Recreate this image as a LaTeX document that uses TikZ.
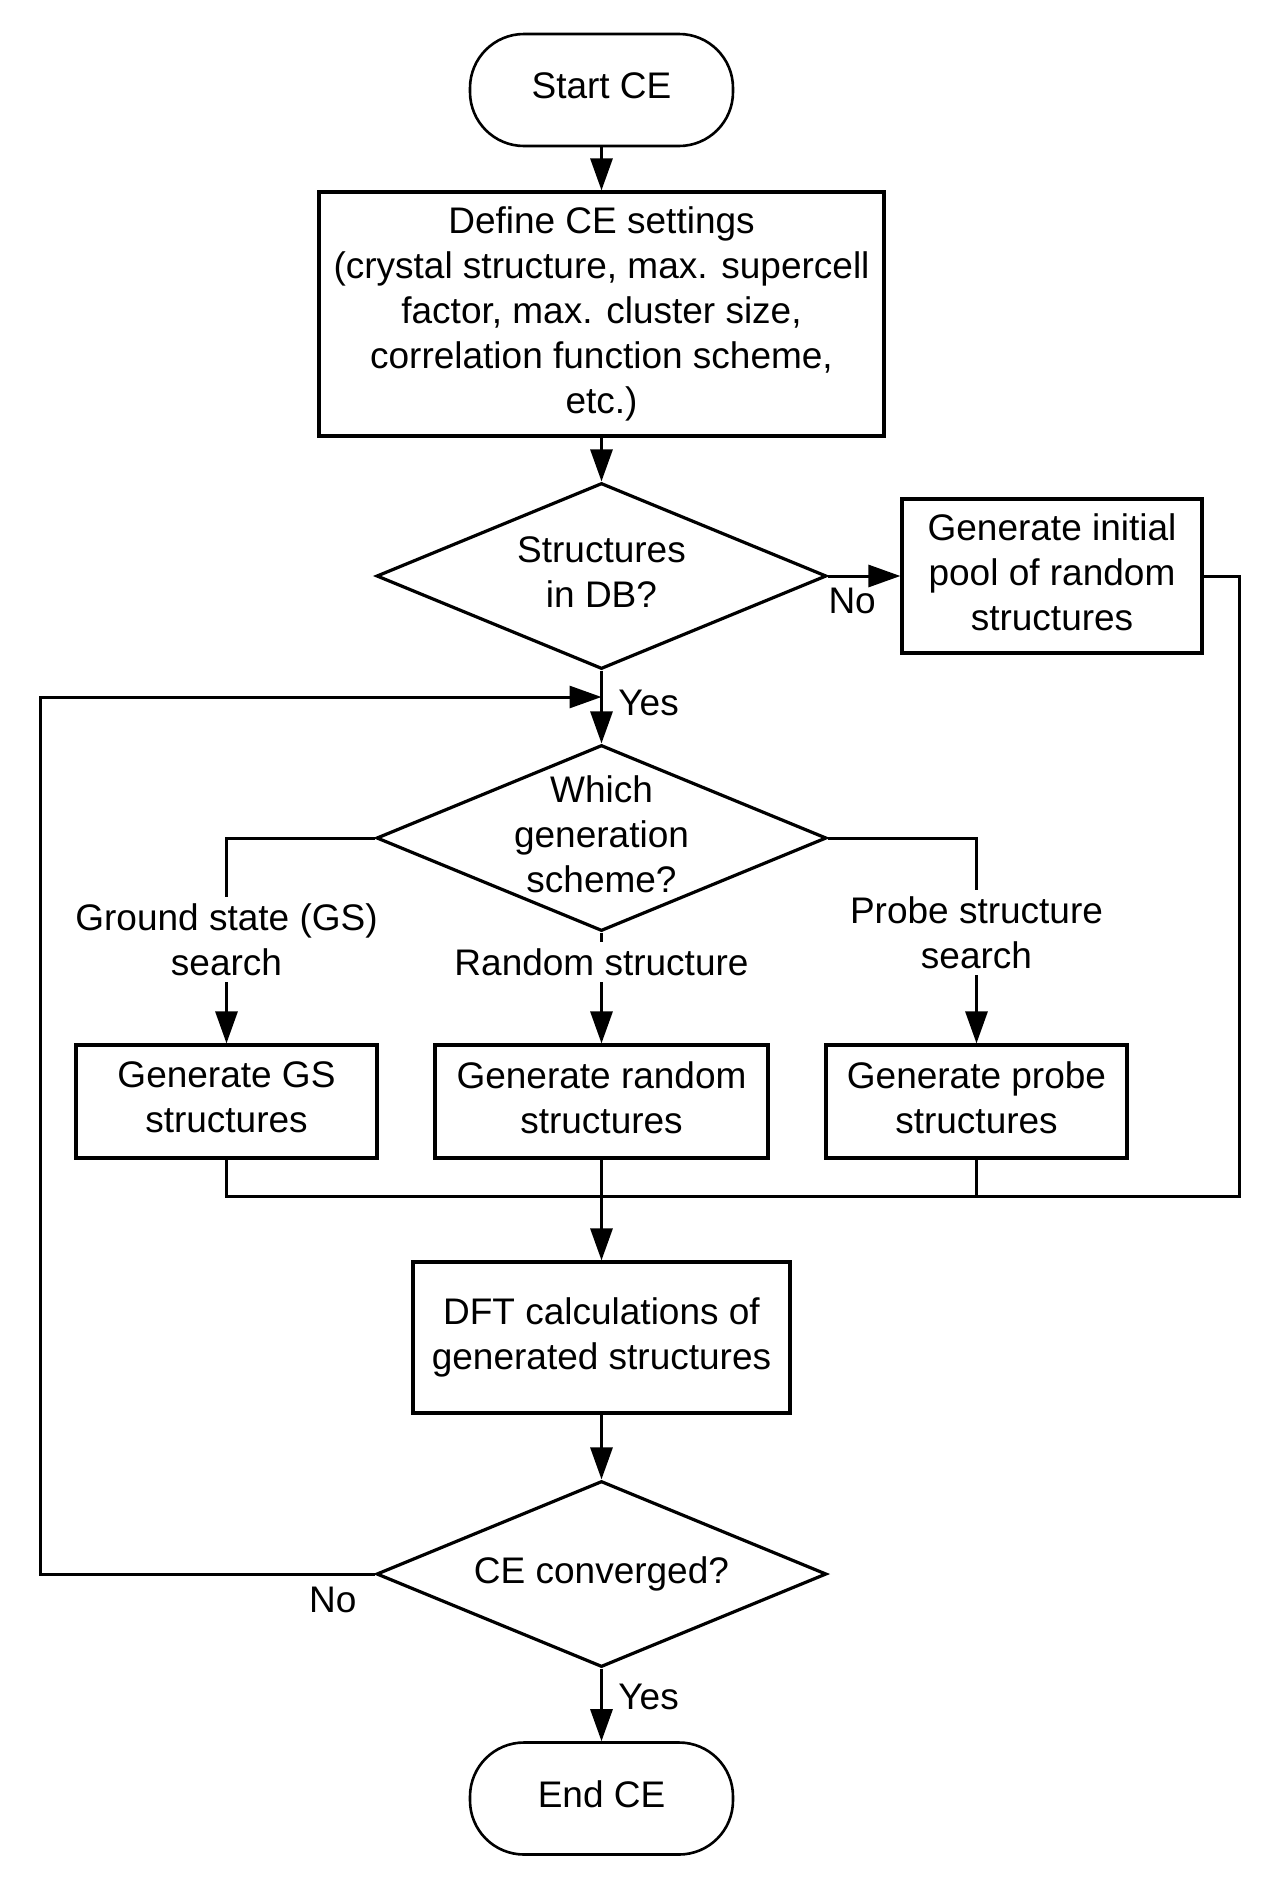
\documentclass[tikz,border=0pt]{standalone}
\usepackage{fontspec}
\setmainfont{Liberation Sans}
\usetikzlibrary{shapes.geometric,arrows.meta}

\begin{document}
\begin{tikzpicture}[x=0.5pt,y=-0.5pt,
  every node/.style={font=\fontsize{18.5}{22.5}\selectfont},
  lifted/.style={execute at end node={\rule[-4pt]{0pt}{0pt}}},
  terminal/.style={draw,lifted,line width=1.3pt,rounded corners=27pt,minimum width=131.5pt,minimum height=56pt},
  process/.style={draw,lifted,line width=1.6pt,align=center,inner sep=0pt},
  decision/.style={draw,diamond,line width=1.6pt,inner sep=0pt,minimum width=225pt,minimum height=93pt},
  dtext/.style={lifted,align=center},
  flow/.style={line width=1.5pt,-{Triangle[length=16pt,width=11pt]}},
  rail/.style={line width=1.5pt},
  branch/.style={fill=white,align=center,inner xsep=2pt,inner ysep=3pt},
  answer/.style={inner sep=1pt}]
\useasboundingbox (0,0) rectangle (1273,1890);

% Start and settings
\node[terminal] (start) at (601.5,90) {Start CE};
\node[process,minimum width=282.5pt,minimum height=122pt] (settings) at (601.5,314)
  {Define CE settings\\(crystal structure, max. supercell\\factor, max. cluster size,\\correlation function scheme,\\etc.)};
\draw[flow] (start) -- (settings);

% Structures in DB?
\node[decision] (dbcheck) at (601.5,576) {};
\node[dtext] (dbtext) at (dbcheck) {Structures\\in DB?};
\node[process,minimum width=150pt,minimum height=77pt] (initpool) at (1052,576)
  {Generate initial\\pool of random\\structures};
\draw[flow] (settings) -- (dbcheck);
\draw[flow] (dbcheck.east) -- (initpool.west);
\node[answer,anchor=north west,xshift=-1pt,yshift=-5pt] (nodb) at (dbcheck.east) {No};

% Which generation scheme?
\coordinate (loopin) at (601.5,697);
\node[decision] (scheme) at (601.5,838) {};
\node[dtext] (schemetext) at (scheme) {Which\\generation\\scheme?};
\draw[flow] (dbcheck.south) -- (scheme.north);
\node[answer,anchor=west] (yesdb) at (616,703) {Yes};

% Generation branches
\node[process,minimum width=150.5pt,minimum height=56.5pt] (gsgen) at (226.5,1101.5) {Generate GS\\structures};
\node[process,minimum width=166.5pt,minimum height=56.5pt] (randgen) at (601.5,1101.5) {Generate random\\structures};
\node[process,minimum width=150.5pt,minimum height=56.5pt] (probegen) at (976.5,1101.5) {Generate probe\\structures};
\draw[flow] (scheme.west) -| (gsgen.north);
\draw[flow] (scheme.south) -- (randgen.north);
\draw[flow] (scheme.east) -| (probegen.north);
\node[branch] (gslabel) at (226.5,939.5) {Ground state (GS)\\search};
\node[branch] (randlabel) at (601.5,962) {Random structure};
\node[branch] (probelabel) at (976.5,932.5) {Probe structure\\search};

% Collect into DFT
\coordinate (merge) at (601.5,1196);
\coordinate (rightrail) at (1239,1196);
\node[process,minimum width=188.5pt,minimum height=75.5pt] (dft) at (601.5,1337.5)
  {DFT calculations of\\generated structures};
\draw[rail] (gsgen.south) |- (rightrail) |- (initpool.east);
\draw[rail] (probegen.south) -- (probegen.south |- merge);
\draw[flow] (randgen.south) -- (dft.north);

% Converged?
\node[decision] (converged) at (601.5,1574) {};
\node[dtext] (convtext) at (converged) {CE converged?};
\node[terminal] (finish) at (601.5,1798.5) {End CE};
\draw[flow] (dft) -- (converged);
\draw[flow] (converged.south) -- (finish.north);
\node[answer,anchor=west] (yesconv) at (616,1697) {Yes};
\coordinate (loopleft) at (40,697);
\draw[flow] (converged.west) -| (loopleft) -- (loopin);
\node[answer,anchor=north east,xshift=-8pt,yshift=-5.5pt] (noconv) at (converged.west) {No};
\end{tikzpicture}
\end{document}
